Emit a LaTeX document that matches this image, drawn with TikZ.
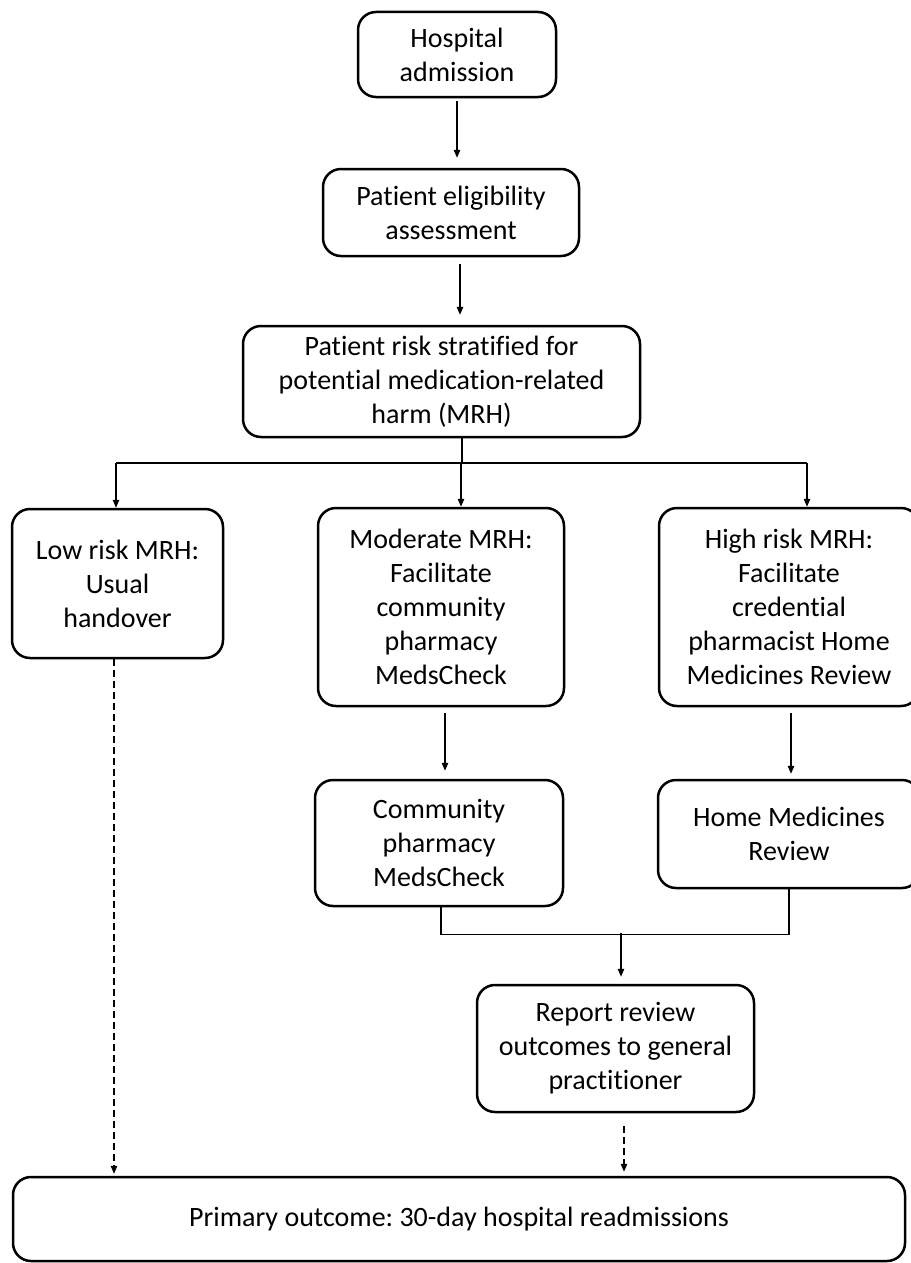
\documentclass[tikz,border=0pt]{standalone}
\usepackage{fontspec}
\setmainfont[Ligatures=NoCommon]{Carlito}
\frenchspacing
\usetikzlibrary{arrows.meta,calc}
\tikzset{
  box/.style={draw, line width=2.5pt, rounded corners=18pt, align=center,
    font=\fontsize{28}{34}\selectfont, inner sep=0pt},
  conn/.style={line width=1.3pt, -{Triangle[length=8pt,width=6.5pt]}},
  plain/.style={line width=1.3pt},
  dashline/.style={dash pattern=on 7pt off 4pt},
}
\begin{document}
\begin{tikzpicture}[x=1pt,y=-1pt]
\useasboundingbox (0,0) rectangle (910,1263);
\node[box, minimum width=198pt, minimum height=85pt] (adm) at (457,54.5) {Hospital\\admission};
\node[box, minimum width=256pt, minimum height=87pt] (elig) at (451,212.5) {Patient eligibility\\assessment};
\node[box, minimum width=397pt, minimum height=111pt] (risk) at (441.5,381.5) {Patient risk stratified for\\potential medication-related\\harm (MRH)};
\node[box, minimum width=211pt, minimum height=149pt] (low) at (117.5,583.5) {Low risk MRH:\\Usual\\handover};
\node[box, minimum width=246pt, minimum height=198pt] (mod) at (441,607) {Moderate MRH:\\Facilitate\\community\\pharmacy\\MedsCheck};
\node[box, minimum width=260pt, minimum height=198pt] (high) at (789,607) {High risk MRH:\\Facilitate\\credential\\pharmacist Home\\Medicines Review};
\node[box, minimum width=248pt, minimum height=126pt] (comm) at (439,843) {Community\\pharmacy\\MedsCheck};
\node[box, minimum width=262pt, minimum height=108pt] (home) at (789,834) {Home Medicines\\Review};
\node[box, minimum width=277pt, minimum height=127pt] (report) at (615.5,1048.5) {Report review\\outcomes to general\\practitioner};
\node[box, minimum width=892pt, minimum height=84pt] (bottom) at (459,1219) {Primary outcome: 30-day hospital readmissions};

\draw[conn] ($(adm.south)+(0,3)$) -- ($(elig.north)+(6,-10)$);
\draw[conn] ($(elig.south)+(9,7)$) -- ($(risk.north)+(18.5,-10)$);

\coordinate (split) at (462,463);
\coordinate (bl) at (116,463);
\coordinate (bm) at (461,463);
\coordinate (br) at (807,463);
\draw[plain] ($(risk.south)+(20.5,0)$) -- (split);
\draw[plain] (bl) -- (br);
\draw[conn] (bl) -- (bl |- low.north);
\draw[conn] (bm) -- (bm |- mod.north);
\draw[conn] (br) -- (br |- high.north);

\draw[conn] ($(mod.south)+(4,6)$) -- ($(comm.north)+(6,-8)$);
\draw[conn] ($(high.south)+(2,6)$) -- ($(home.north)+(2,-5)$);

\coordinate (jn) at (621,933);
\draw[plain] ($(comm.south)+(2,0)$) -- ++(0,27) -| (home.south);
\draw[conn] (jn) -- ($(report.north)+(5.5,-7)$);

\draw[conn, dashline] ($(low.south)+(-3.5,0)$) -- ($(bottom.north)+(-345,-2)$);
\draw[conn, dashline] ($(report.south)+(8.5,13)$) -- ($(bottom.north)+(165,-4)$);
\end{tikzpicture}
\end{document}
